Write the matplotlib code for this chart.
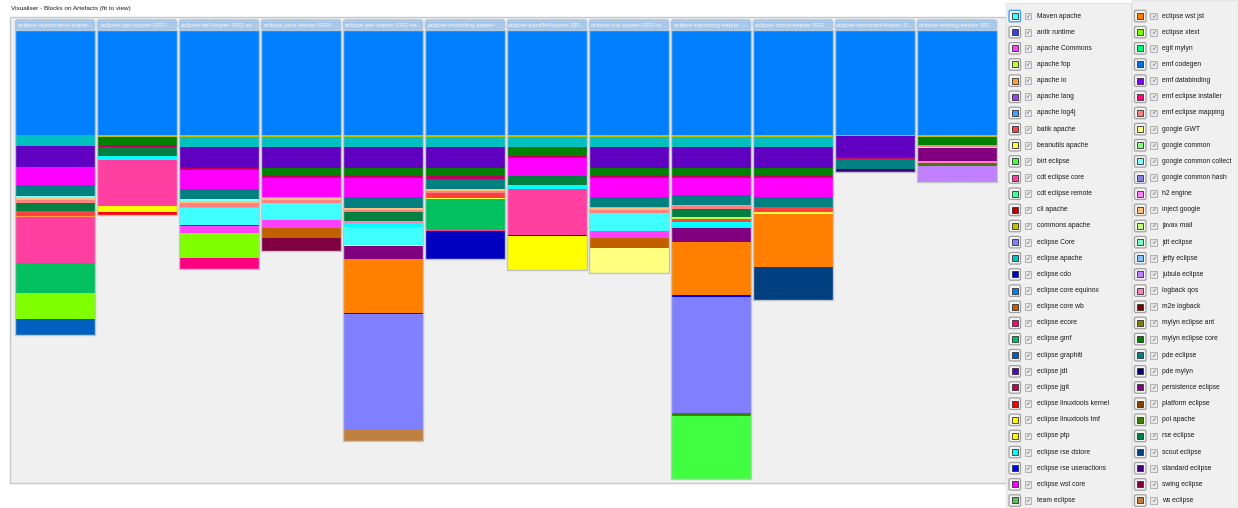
import numpy as np
import matplotlib
matplotlib.use("Agg")
import matplotlib.pyplot as plt
from matplotlib.patches import Rectangle, FancyBboxPatch

# --- DATI ---
TITLE = "Visualiser - Blocks on Artefacts (fit to view)"

HEADERS = ["eclipse-automotive-keple...", "eclipse-cpp-kepler-SR2-...",
           "eclipse-dsl-kepler-SR2-wi...", "eclipse-java-kepler-SR2-...",
           "eclipse-jee-kepler-SR2-wi...", "eclipse-modeling-kepler-...",
           "eclipse-parallel-kepler-SR...", "eclipse-rcp-kepler-SR2-w...",
           "eclipse-reporting-kepler-...", "eclipse-scout-kepler-SR2...",
           "eclipse-standard-kepler-S...", "eclipse-testing-kepler-SR..."]

LEGEND_LEFT = ["Maven apache", "antlr runtime", "apache Commons", "apache fop", "apache io",
               "apache lang", "apache log4j", "batik apache", "beanutils apache", "birt eclipse",
               "cdt eclipse core", "cdt eclipse remote", "cli apache", "commons apache",
               "eclipse Core", "eclipse apache", "eclipse cdo", "eclipse core equinox",
               "eclipse core wb", "eclipse ecore", "eclipse gmf", "eclipse graphiti", "eclipse jdt",
               "eclipse jgit", "eclipse linuxtools kernel", "eclipse linuxtools tmf", "eclipse ptp",
               "eclipse rse dstore", "eclipse rse useractions", "eclipse wst core", "team eclipse"]
LEFT_COLORS = ["#40ffff", "#4040e0", "#ff40ff", "#c0ff40", "#ffa040", "#a040ff", "#40a0ff",
               "#ff4040", "#ffff40", "#40ff40", "#ff40a0", "#40ffa0", "#c00000", "#c0c000",
               "#8080ff", "#00c0c0", "#0000c0", "#0080ff", "#c06000", "#ff0080", "#00c060",
               "#0060c0", "#6000c0", "#c00060", "#ff0000", "#ffff00", "#ffff00", "#00ffff",
               "#0000ff", "#ff00ff", "#60c060"]

LEGEND_RIGHT = ["eclipse wst jst", "eclipse xtext", "egit mylyn", "emf codegen", "emf databinding",
                "emf eclipse installer", "emf eclipse mapping", "google GWT", "google common",
                "google common collect", "google common hash", "h2 engine", "inject google",
                "javax mail", "jdt eclipse", "jetty eclipse", "jubula eclipse", "logback qos",
                "m2e logback", "mylyn eclipse ant", "mylyn eclipse core", "pde eclipse", "pde mylyn",
                "persistence eclipse", "platform eclipse", "poi apache", "rse eclipse",
                "scout eclipse", "standard eclipse", "swing eclipse", "ws eclipse"]
RIGHT_COLORS = ["#ff8000", "#80ff00", "#00ff80", "#0070e0", "#8000ff", "#ff0080", "#ff8080",
                "#ffff80", "#80ff80", "#80ffff", "#8080e0", "#ff80ff", "#ffc080", "#c0ff80",
                "#80ffc0", "#80c0ff", "#c080ff", "#ff80c0", "#800000", "#808000", "#008000",
                "#008080", "#000080", "#800080", "#804000", "#408000", "#008040", "#004080",
                "#400080", "#800040", "#c08040"]

# blocchi per artefatto (dall'alto verso il basso): (libreria, dimensione)
AUTOMOTIVE = [("eclipse core equinox", 105), ("eclipse apache", 11), ("eclipse jdt", 21),
              ("eclipse wst core", 18), ("pde eclipse", 11), ("google common collect", 1.7),
              ("inject google", 2.3), ("emf eclipse mapping", 2.7), ("rse eclipse", 8.3),
              ("batik apache", 5), ("apache io", 1.3), ("cdt eclipse core", 45.4),
              ("eclipse gmf", 30.6), ("eclipse xtext", 26), ("eclipse graphiti", 15.7)]
CPP = [("eclipse core equinox", 105), ("commons apache", 1.7), ("mylyn eclipse core", 8.3),
       ("eclipse jgit", 1.7), ("rse eclipse", 9.3), ("eclipse rse dstore", 4),
       ("cdt eclipse core", 46), ("eclipse linuxtools tmf", 6), ("eclipse linuxtools kernel", 3)]
DSL = [("eclipse core equinox", 105), ("commons apache", 1.7), ("eclipse apache", 10.3),
       ("eclipse jdt", 21), ("eclipse jgit", 2), ("eclipse wst core", 18.7), ("pde eclipse", 10.6),
       ("google common collect", 1.4), ("inject google", 2), ("emf eclipse mapping", 4.6),
       ("jetty eclipse", 0.7), ("Maven apache", 16.7), ("eclipse jgit", 1.3),
       ("apache Commons", 6.7), ("eclipse xtext", 25), ("eclipse ecore", 11.3)]
JAVA = [("eclipse core equinox", 105), ("commons apache", 1.7), ("eclipse apache", 10),
        ("eclipse jdt", 21.3), ("mylyn eclipse core", 8), ("eclipse jgit", 2.3),
        ("eclipse wst core", 18.7), ("jetty eclipse", 1), ("inject google", 2),
        ("emf eclipse mapping", 2.7), ("Maven apache", 17.3), ("apache Commons", 7.7),
        ("eclipse core wb", 10.3), ("swing eclipse", 13)]
JEE = [("eclipse core equinox", 105), ("commons apache", 1.7), ("eclipse apache", 10),
       ("eclipse jdt", 21.3), ("mylyn eclipse core", 8), ("eclipse jgit", 2.3),
       ("eclipse wst core", 18.7), ("pde eclipse", 10.7), ("jetty eclipse", 0.7),
       ("inject google", 1.9), ("emf eclipse mapping", 2), ("rse eclipse", 8.7),
       ("logback qos", 1.7), ("eclipse rse dstore", 4.6), ("Maven apache", 17.7),
       ("google GWT", 1), ("persistence eclipse", 13.3), ("eclipse wst jst", 53.4),
       ("eclipse rse useractions", 1.3), ("eclipse Core", 116), ("ws eclipse", 10.7)]
MODELING = [("eclipse core equinox", 105), ("commons apache", 1.7), ("eclipse apache", 10),
            ("eclipse jdt", 21.3), ("mylyn eclipse core", 8), ("eclipse jgit", 2.7),
            ("pde eclipse", 10), ("jetty eclipse", 0.7), ("inject google", 1.6),
            ("emf eclipse mapping", 2.3), ("batik apache", 4.7), ("beanutils apache", 1),
            ("eclipse gmf", 31), ("cdt eclipse core", 1), ("eclipse cdo", 28.3)]
PARALLEL = [("eclipse core equinox", 105), ("commons apache", 1.7), ("eclipse apache", 10),
            ("mylyn eclipse core", 9), ("eclipse jgit", 2), ("eclipse wst core", 18),
            ("rse eclipse", 9.3), ("eclipse rse dstore", 4), ("cdt eclipse core", 46),
            ("eclipse rse useractions", 1.3), ("eclipse linuxtools tmf", 33.4)]
RCP = [("eclipse core equinox", 105), ("commons apache", 1.7), ("eclipse apache", 10),
       ("eclipse jdt", 21.3), ("mylyn eclipse core", 8), ("eclipse jgit", 2.3),
       ("eclipse wst core", 18.7), ("pde eclipse", 10.3), ("jetty eclipse", 1),
       ("inject google", 2), ("emf eclipse mapping", 2.4), ("Maven apache", 18),
       ("apache Commons", 7.6), ("eclipse core wb", 10), ("google GWT", 25)]
REPORTING = [("eclipse core equinox", 105), ("commons apache", 1.7), ("eclipse apache", 10),
             ("eclipse jdt", 21.3), ("mylyn eclipse core", 8), ("eclipse jgit", 2.3),
             ("eclipse wst core", 16.4), ("pde eclipse", 10.6), ("jetty eclipse", 1),
             ("emf eclipse mapping", 2.4), ("rse eclipse", 8.6), ("apache fop", 1.4),
             ("batik apache", 3.3), ("eclipse rse dstore", 5.3), ("commons apache", 1),
             ("persistence eclipse", 13.4), ("eclipse wst jst", 53), ("eclipse rse useractions", 2),
             ("eclipse Core", 116), ("poi apache", 3.3), ("birt eclipse", 63.3)]
SCOUT = [("eclipse core equinox", 105), ("commons apache", 1.7), ("eclipse apache", 10),
         ("eclipse jdt", 21.3), ("mylyn eclipse core", 8), ("eclipse jgit", 2.3),
         ("eclipse wst core", 18.7), ("pde eclipse", 10.3), ("batik apache", 4.7),
         ("beanutils apache", 1.7), ("eclipse wst jst", 53.3), ("scout eclipse", 33)]
STANDARD = [("eclipse core equinox", 105), ("commons apache", 0.7), ("eclipse jdt", 21.6),
            ("eclipse jgit", 2), ("pde eclipse", 10), ("standard eclipse", 2.7)]
TESTING = [("eclipse core equinox", 105), ("commons apache", 1.7), ("mylyn eclipse core", 8.3),
           ("emf eclipse mapping", 1.7), ("beanutils apache", 1.3), ("persistence eclipse", 13.3),
           ("logback qos", 1.4), ("poi apache", 3), ("jubula eclipse", 16)]

COLUMNS = [AUTOMOTIVE, CPP, DSL, JAVA, JEE, MODELING, PARALLEL, RCP, REPORTING, SCOUT, STANDARD, TESTING]

FONT = "Liberation Sans"
FS = 4.6
FS_LEGEND = 4.85
W, H = 1238, 508


def main():
    colors = dict(zip(LEGEND_LEFT, LEFT_COLORS))
    colors.update(zip(LEGEND_RIGHT, RIGHT_COLORS))

    fig = plt.figure(figsize=(W / 100, H / 100), dpi=100, facecolor="white")

    # tela in pixel per cornice, titolo e legenda
    canvas = fig.add_axes([0, 0, 1, 1])
    canvas.set_xlim(0, W)
    canvas.set_ylim(H, 0)
    canvas.axis("off")

    canvas.add_patch(Rectangle((9.5, 17), 996, 466, facecolor="#f0f0f0", edgecolor="#c4c8cc", lw=1))
    canvas.text(11, 8.5, TITLE, fontsize=FS, family=FONT, color="#1a1a1a", va="center", ha="left")

    # legenda (due colonne)
    canvas.add_patch(Rectangle((1006, 3), 125, 505, facecolor="#f0f0f0", edgecolor="#e4e4e4", lw=0.8))
    canvas.add_patch(Rectangle((1132, 0), 106, 508, facecolor="#f0f0f0", edgecolor="#e4e4e4", lw=0.8))
    for col, (names, cols) in enumerate([(LEGEND_LEFT, LEFT_COLORS), (LEGEND_RIGHT, RIGHT_COLORS)]):
        x0 = 1009 if col == 0 else 1134.5
        for i, (name, c) in enumerate(zip(names, cols)):
            y = 16 + i * 16.15
            edge = "#3399ff" if (col == 0 and i == 0) else "#a0a0a0"
            canvas.add_patch(FancyBboxPatch((x0, y - 5.7), 11.5, 11.5,
                                            boxstyle="round,pad=0,rounding_size=1.5",
                                            facecolor="#f4f4f4", edgecolor=edge, lw=0.9))
            canvas.add_patch(Rectangle((x0 + 2.7, y - 3), 6, 6, facecolor=c, edgecolor="#303030", lw=0.6))
            canvas.add_patch(Rectangle((x0 + 15.5, y - 3.3), 6.8, 6.8, facecolor="#e8e8e8",
                                       edgecolor="#a8a8a8", lw=0.6))
            canvas.text(x0 + 18.9, y + 0.2, "\u2713", fontsize=4.5, family="DejaVu Sans",
                        color="#4a64a8", ha="center", va="center")
            canvas.text(x0 + 28, y, name, fontsize=FS_LEGEND, family=FONT, color="#1a1a1a",
                        ha="left", va="center")

    # grafico dei blocchi
    left, right, top, bottom = 14, 998, 30, 483
    ax = fig.add_axes([left / W, 1 - bottom / H, (right - left) / W, (bottom - top) / H])
    ax.set_facecolor("none")
    ax.set_xlim(-0.5, len(COLUMNS) - 0.5)
    ax.set_ylim(bottom - top, 0)
    ax.axis("off")

    bw = 80 / 82
    for i, blocks in enumerate(COLUMNS):
        names = [b[0] for b in blocks]
        sizes = np.array([b[1] for b in blocks], dtype=float)
        starts = np.concatenate([[0], np.cumsum(sizes)[:-1]])
        ax.bar([i] * len(sizes), sizes, bottom=starts, width=bw,
               color=[colors[n] for n in names], linewidth=0)
        ax.bar(i, sizes.sum(), width=bw, fill=False, edgecolor="#c0c4c8", linewidth=1)

        # linguetta con il nome dell'artefatto
        ax.add_patch(FancyBboxPatch((i - bw / 2, -10.5), bw, 11, boxstyle="round,pad=0,rounding_size=0.035",
                                    mutation_aspect=82, facecolor="#a8c8ea", edgecolor="#b8cce0",
                                    lw=0.6, clip_on=False))
        ax.text(i, -5, HEADERS[i], fontsize=FS, family=FONT, color="#f2f6fb",
                ha="center", va="center", clip_on=False)

    fig.savefig("out.png", dpi=100, facecolor="white")


if __name__ == "__main__":
    main()
